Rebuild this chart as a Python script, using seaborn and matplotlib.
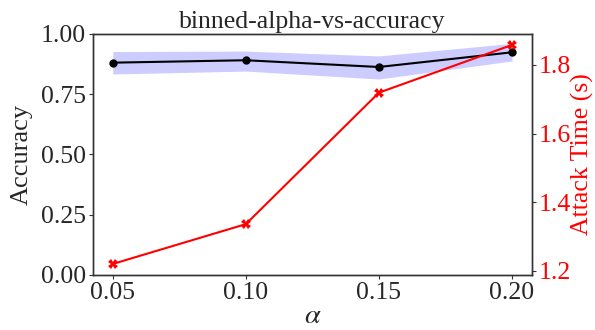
import matplotlib
matplotlib.use("Agg")
import matplotlib.pyplot as plt
import seaborn as sns
import pandas as pd

# binned alpha values and measured results
alphas = [0.05, 0.10, 0.15, 0.20]
accuracy = [0.881, 0.891, 0.863, 0.924]
acc_lower = [0.834, 0.846, 0.813, 0.888]
acc_upper = [0.927, 0.929, 0.909, 0.961]
attack_time = [1.220, 1.336, 1.719, 1.858]

sns.set_theme(style="ticks")
plt.rcParams["font.family"] = ["Liberation Serif", "DejaVu Serif"]
plt.rcParams["mathtext.fontset"] = "stix"

FS = 18.5

df = pd.DataFrame({"alpha": alphas, "accuracy": accuracy,
                   "lower": acc_lower, "upper": acc_upper,
                   "time": attack_time})

fig, ax = plt.subplots(figsize=(5.95, 3.3), dpi=100)
fig.subplots_adjust(left=0.156, right=0.894, top=0.897, bottom=0.167)

ax.fill_between(df["alpha"], df["lower"], df["upper"], color="blue",
                alpha=0.2, linewidth=0)
sns.lineplot(data=df, x="alpha", y="accuracy", ax=ax, color="black",
             marker="o", markersize=6, markeredgewidth=0, linewidth=1.5)
ax.set_ylim(0, 1.0)
ax.set_yticks([0, 0.25, 0.5, 0.75, 1.0])
ax.set_xticks(alphas)
ax.set_xticklabels([f"{a:.2f}" for a in alphas])
ax.set_xlabel(r"$\alpha$", fontsize=FS + 2, labelpad=0)
ax.set_ylabel("Accuracy", fontsize=FS + 0.5, labelpad=6)
ax.set_title("binned-alpha-vs-accuracy", fontsize=FS, pad=4)
ax.tick_params(labelsize=FS, length=3, width=0.8, pad=2, color="#333333")

ax2 = ax.twinx()
sns.lineplot(data=df, x="alpha", y="time", ax=ax2, color="red",
             marker="X", markersize=7, markeredgewidth=0, linewidth=1.5)
ax2.set_yticks([1.2, 1.4, 1.6, 1.8])
ax2.set_ylabel("Attack Time (s)", fontsize=FS, color="red", labelpad=0)
ax2.tick_params(axis="y", labelsize=FS, length=3, width=0.8, pad=2,
                labelcolor="red", color="#333333")

for a in (ax, ax2):
    for sp in a.spines.values():
        sp.set_visible(True)
        sp.set_color("#333333")
        sp.set_linewidth(1.0)

fig.savefig("out.png", dpi=100)
